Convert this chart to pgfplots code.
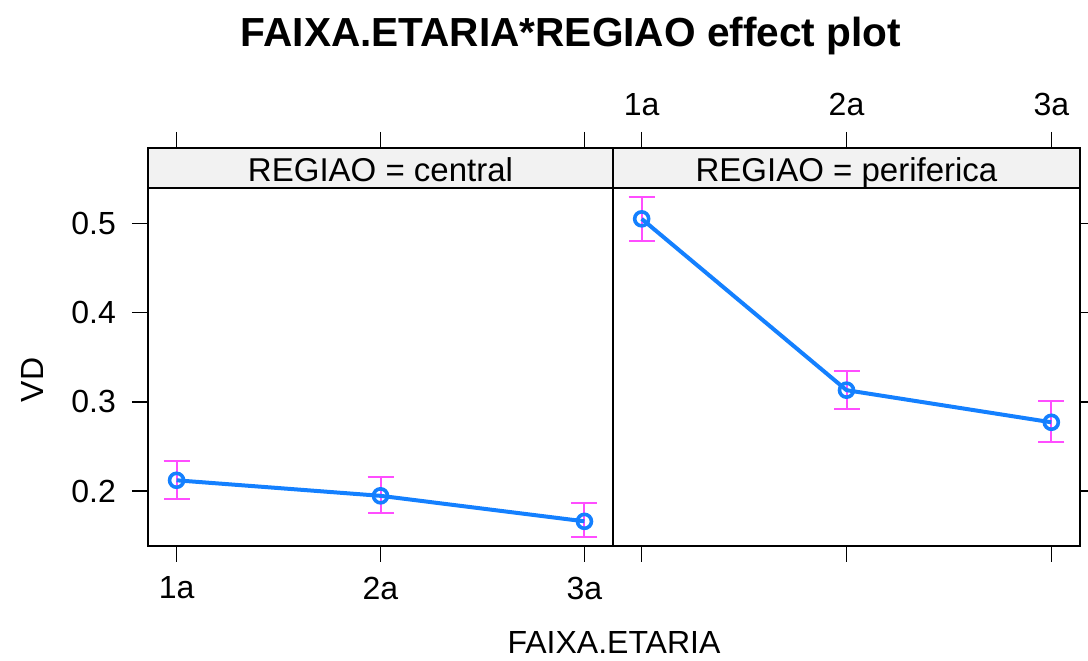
\documentclass[border=0pt]{standalone}
\usepackage{pgfplots}
\usepackage{pgfplotstable}
\pgfplotsset{compat=1.18}
\usepackage{fontspec}
\setmainfont{Liberation Sans}

\definecolor{fitblue}{RGB}{20,128,255}
\definecolor{cimag}{RGB}{255,77,255}
\definecolor{stripgray}{RGB}{242,242,242}

% fitted values with confidence limits (plus / minus)
\pgfplotstableread{
x  y      ep     em
1  0.212  0.022  0.021
2  0.1946 0.021  0.0198
3  0.166  0.020  0.018
}\central
\pgfplotstableread{
x  y      ep     em
1  0.505  0.024  0.0245
2  0.313  0.022  0.021
3  0.277  0.024  0.022
}\periferica

\tikzset{striplabel/.style={font=\fontsize{16.5}{19}\selectfont, anchor=base, inner sep=0pt}}

\pgfplotsset{
  effpanel/.style={
    scale only axis, anchor=south west,
    height=198.85pt,
    xmin=0.86, xmax=3.14, ymin=0.1387, ymax=0.5844,
    xtick={1,2,3}, xticklabels={1a,2a,3a},
    ytick={0.2,0.3,0.4,0.5},
    tick align=outside, major tick length=8pt,
    xtick pos=both,
    axis line style={line width=0.8pt},
    every tick/.style={black, line width=0.8pt},
    every tick label/.append style={font=\fontsize{16}{19}\selectfont},
    axis on top, clip=false,
  },
  cibars/.style={
    draw=none, mark=none, forget plot,
    error bars/.cd, y dir=both, y explicit,
    error bar style={draw=cimag, line width=1pt},
    error mark options={draw=cimag, line width=1pt, mark size=6.5pt, rotate=90},
  },
  fitline/.style={
    fitblue, line width=2pt, mark=o, mark size=3.5pt,
    mark options={line width=1.8pt, fitblue},
  },
}

\begin{document}
\begin{tikzpicture}
\useasboundingbox (0,0) rectangle (544pt,330pt);

% left panel
\begin{axis}[effpanel, at={(74pt,57.15pt)}, width=232.5pt,
  ytick pos=left, xticklabel pos=bottom,
  yticklabels={0.2,0.3,0.4,0.5},
  yticklabel style={xshift=-4.5pt},
  xticklabel style={yshift=-4pt}]
  \fill[stripgray] (axis cs:0.86,0.5396) rectangle (axis cs:3.14,0.5844);
  \draw[line width=0.8pt] (axis cs:0.86,0.5396) -- (axis cs:3.14,0.5396);
  \node[striplabel] at (axis cs:2,0.5466) {REGIAO = central};
  \addplot[cibars] table[x=x, y=y, y error plus=ep, y error minus=em] {\central};
  \addplot[fitline] table[x=x, y=y] {\central};
\end{axis}

% right panel: ticks on the right, no tick numbers
\begin{axis}[effpanel, at={(306.5pt,57.15pt)}, width=233.5pt,
  ytick pos=right, yticklabel pos=left, yticklabels={,,,},
  xticklabel pos=top,
  xticklabel style={yshift=4.5pt}]
  \fill[stripgray] (axis cs:0.86,0.5396) rectangle (axis cs:3.14,0.5844);
  \draw[line width=0.8pt] (axis cs:0.86,0.5396) -- (axis cs:3.14,0.5396);
  \node[striplabel] at (axis cs:2,0.5466) {REGIAO = periferica};
  \addplot[cibars] table[x=x, y=y, y error plus=ep, y error minus=em] {\periferica};
  \addplot[fitline] table[x=x, y=y] {\periferica};
\end{axis}

% titles
\node[font=\bfseries\fontsize{20.3}{24}\selectfont] at (285.5pt,312pt) {FAIXA.ETARIA*REGIAO effect plot};
\node[font=\fontsize{16}{19}\selectfont, inner sep=0pt] at (307pt,9pt) {FAIXA.ETARIA};
\node[font=\fontsize{16}{19}\selectfont, rotate=90] at (16pt,140pt) {VD};
\end{tikzpicture}
\end{document}
